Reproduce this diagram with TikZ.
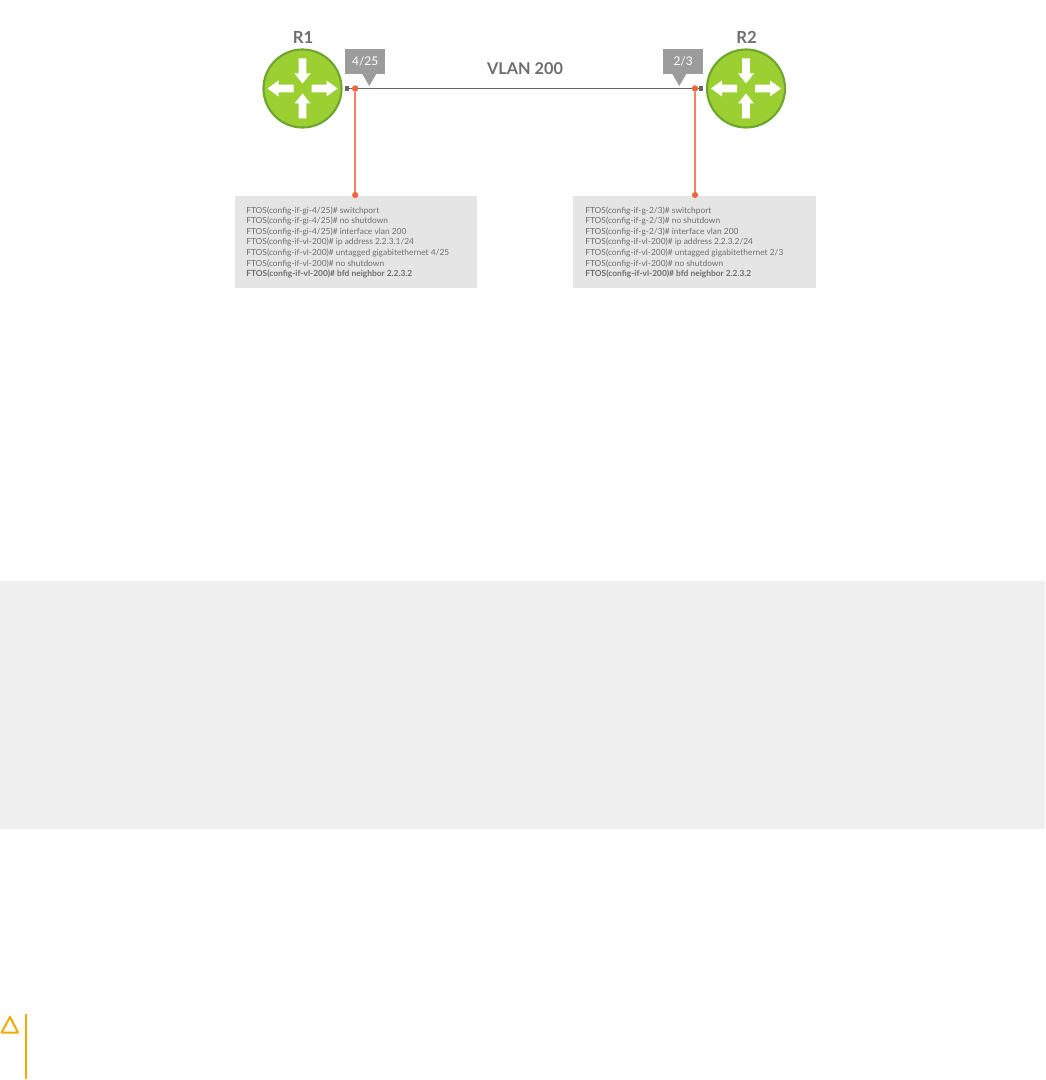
\documentclass[tikz,border=0pt]{standalone}
\usepackage{fontspec}
\setmainfont{Lato}
\definecolor{routerfill}{HTML}{9BCF32}
\definecolor{routerline}{HTML}{6FA62E}
\definecolor{taggray}{HTML}{9C9C9C}
\definecolor{linkgray}{HTML}{666666}
\definecolor{textgray}{HTML}{6E6E6E}
\definecolor{boxgray}{HTML}{E5E5E5}
\definecolor{bandgray}{HTML}{EFEFEF}
\definecolor{dotorange}{HTML}{F0653A}
\definecolor{leaderorange}{HTML}{F28560}
\definecolor{warnorange}{HTML}{F2A900}
\tikzset{
  x=0.75pt,y=-0.75pt,
  router/.style={circle,draw=routerline,fill=routerfill,line width=1.6pt,minimum size=58.5pt,inner sep=0pt},
  whitearrow/.style={fill=white,draw=none},
  title/.style={text=textgray,font=\fontsize{12.5}{13}\selectfont\bfseries,inner sep=0pt},
  vlantitle/.style={text=textgray,font=\fontsize{12.2}{13}\selectfont\bfseries,inner sep=0pt},
  tagbox/.style={fill=taggray,text=white,font=\fontsize{9}{10}\selectfont,minimum width=29.6pt,minimum height=18.6pt,inner sep=0pt},
  tagtip/.style={fill=taggray,draw=none},
  port/.style={fill=linkgray,minimum size=3.2pt,inner sep=0pt},
  dot/.style={circle,fill=dotorange,minimum size=4.6pt,inner sep=0pt},
  link/.style={draw=linkgray,line width=1.2pt},
  leader/.style={draw=leaderorange,line width=1.1pt},
  cfgbox/.style={fill=boxgray,minimum height=69pt,inner sep=0pt},
  cfgtext/.style={text=textgray,align=left,anchor=west,inner sep=0pt,font=\fontsize{6.3}{7.9}\selectfont},
}
\begin{document}
\begin{tikzpicture}
\useasboundingbox (0,0) rectangle (1045,1080);
\fill[bandgray] (0,581) rectangle (1045,829);

% routers
\node[router] (r1) at (302.5,88.5) {};
\node[router] (r2) at (746,88.5) {};
\begin{scope}[shift={(302.5,88.5)}]
  \foreach \a in {0,180}{\fill[whitearrow,rotate=\a] (9,-3.8)--(24,-3.8)--(24,-8)--(35,0)--(24,8)--(24,3.8)--(9,3.8)--cycle;}
  \foreach \a in {90,270}{\fill[whitearrow,rotate=\a] (30,-3.8)--(15,-3.8)--(15,-8)--(5,0)--(15,8)--(15,3.8)--(30,3.8)--cycle;}
\end{scope}
\begin{scope}[shift={(746,88.5)}]
  \foreach \a in {0,180}{\fill[whitearrow,rotate=\a] (9,-3.8)--(24,-3.8)--(24,-8)--(35,0)--(24,8)--(24,3.8)--(9,3.8)--cycle;}
  \foreach \a in {90,270}{\fill[whitearrow,rotate=\a] (30,-3.8)--(15,-3.8)--(15,-8)--(5,0)--(15,8)--(15,3.8)--(30,3.8)--cycle;}
\end{scope}
\node[title] (r1t) at (303,37) {R1};
\node[title] (r2t) at (746.5,37) {R2};
\node[vlantitle] (vlan) at (525,69) {VLAN 200};

% tags
\node[tagbox] (tag1) at (365.2,61.7) {4/25};
\node[tagbox] (tag2) at (683.2,61.7) {2/3};
\fill[tagtip] (362,73.5)--(376.5,73.5)--(369.3,86)--cycle;
\fill[tagtip] (672,73.5)--(686.5,73.5)--(679.3,86)--cycle;

% config boxes
\node[cfgbox,minimum width=181.5pt] (box1) at (355.75,242) {};
\node[cfgbox,minimum width=182pt] (box2) at (694.75,242) {};
\node[cfgtext] (cfg1) at (246,242.5) {FTOS(config-if-gi-4/25)\# switchport\\
FTOS(config-if-gi-4/25)\# no shutdown\\
FTOS(config-if-gi-4/25)\# interface vlan 200\\
FTOS(config-if-vl-200)\# ip address 2.2.3.1/24\\
FTOS(config-if-vl-200)\# untagged gigabitethernet 4/25\\
FTOS(config-if-vl-200)\# no shutdown\\
\textbf{FTOS(config-if-vl-200)\# bfd neighbor 2.2.3.2}};
\node[cfgtext] (cfg2) at (585,242.5) {FTOS(config-if-g-2/3)\# switchport\\
FTOS(config-if-g-2/3)\# no shutdown\\
FTOS(config-if-g-2/3)\# interface vlan 200\\
FTOS(config-if-vl-200)\# ip address 2.2.3.2/24\\
FTOS(config-if-vl-200)\# untagged gigabitethernet 2/3\\
FTOS(config-if-vl-200)\# no shutdown\\
\textbf{FTOS(config-if-vl-200)\# bfd neighbor 2.2.3.2}};

% ports and link
\node[port] (p1) at (346.7,88.5) {};
\node[port] (p2) at (701.3,88.5) {};
\node[dot] (d1) at (355.2,88.5) {};
\node[dot] (d2) at (695,88.5) {};
\node[dot] (b1) at (355.2,195) {};
\node[dot] (b2) at (695,195) {};
\draw[link] (p1) -- (p2);
\draw[leader] (d1) -- (b1);
\draw[leader] (d2) -- (b2);
\node[dot] at (d1) {};
\node[dot] at (d2) {};

% caution mark
\draw[warnorange,line width=1.5pt,line join=round] (10,1017)--(18,1032.5)--(1.5,1032.5)--cycle;
\draw[warnorange,line width=1.5pt] (26,1014)--(26,1079);
\end{tikzpicture}
\end{document}
